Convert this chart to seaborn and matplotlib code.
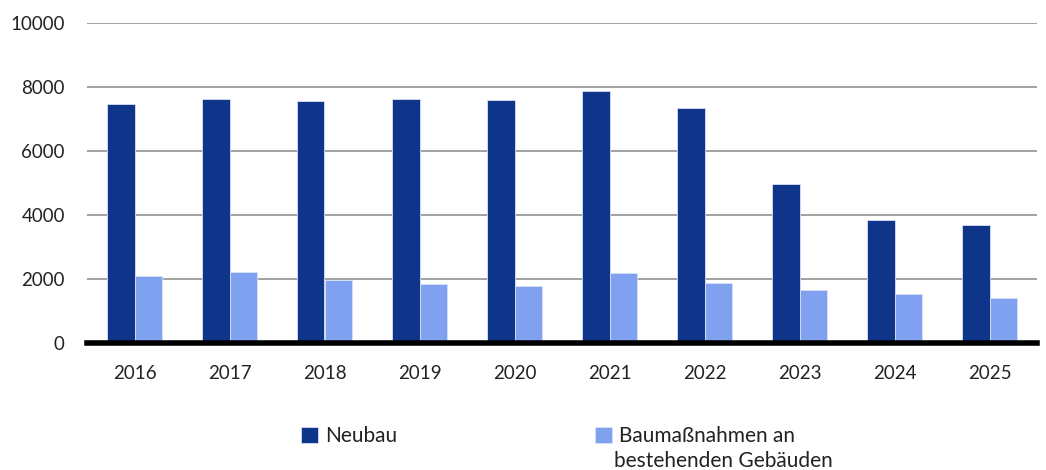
import pandas as pd
import seaborn as sns
import matplotlib.pyplot as plt

years = ['2016', '2017', '2018', '2019', '2020', '2021', '2022', '2023', '2024', '2025']
neubau = [7480, 7625, 7570, 7635, 7580, 7885, 7345, 4970, 3845, 3700]
bestand = [2100, 2220, 1980, 1855, 1770, 2195, 1885, 1665, 1540, 1405]
series = ['Neubau', 'Baumaßnahmen an bestehenden Gebäuden']
colors = ['#0f358b', '#80a0f0']

df = pd.DataFrame({'Jahr': years * 2,
                   'Wert': neubau + bestand,
                   'Art': [series[0]] * len(years) + [series[1]] * len(years)})

sns.set_style('white')
plt.rcParams['font.family'] = ['Lato', 'DejaVu Sans']

fig = plt.figure(figsize=(10.46, 4.70), dpi=100)
ax = fig.add_axes([87 / 1046, 1 - 343 / 470, 950 / 1046, 320 / 470])

sns.barplot(data=df, x='Jahr', y='Wert', hue='Art', palette=colors, width=0.57,
            saturation=1, edgecolor='#d8e0f5', linewidth=0.6, ax=ax, zorder=3)

ax.set_ylim(0, 10000)
ax.set_yticks(range(0, 10001, 2000))
ax.set_xlim(-0.5, len(years) - 0.5)
ax.yaxis.grid(True, color='#9a9a9a', linewidth=1.3, zorder=0)
ax.set_axisbelow(True)
for s in ['top', 'right', 'left']:
    ax.spines[s].set_visible(False)
ax.spines['bottom'].set_color('black')
ax.spines['bottom'].set_linewidth(4)
ax.spines['bottom'].set_zorder(5)
ax.tick_params(axis='both', length=0, labelsize=13.5, colors='#222222')
ax.tick_params(axis='x', pad=16)
ax.tick_params(axis='y', pad=16)
ax.set_xlabel('')
ax.set_ylabel('')

# legend below, second label wraps onto two lines
handles, labels = ax.get_legend_handles_labels()
ax.legend_.remove()
fig.legend(handles[:1], ['Neubau'], loc='center left',
           bbox_to_anchor=(293 / 1046, 1 - 436 / 470), frameon=False, fontsize=15,
           handlelength=0.8, handleheight=0.8, handletextpad=0.35, borderaxespad=0,
           labelcolor='#222222')
fig.legend(handles[1:], ['Baumaßnahmen an'], loc='center left',
           bbox_to_anchor=(587 / 1046, 1 - 436 / 470), frameon=False, fontsize=15,
           handlelength=0.8, handleheight=0.8, handletextpad=0.35, borderaxespad=0,
           labelcolor='#222222')
fig.text(614 / 1046, 1 - 461 / 470, 'bestehenden Gebäuden', fontsize=15,
         color='#222222', va='center', ha='left')

fig.savefig('out.png', dpi=100)
